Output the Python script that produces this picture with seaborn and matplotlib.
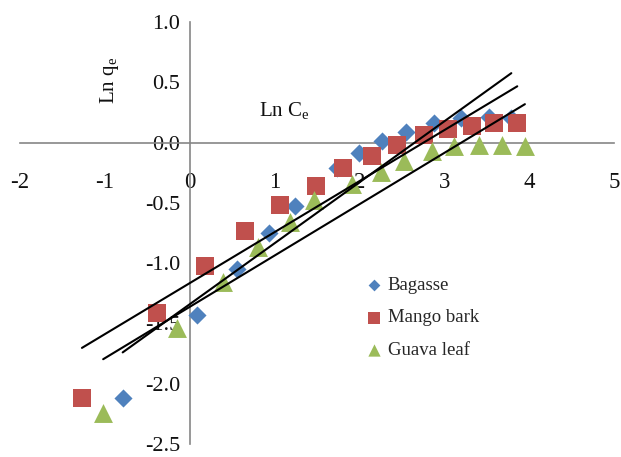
import numpy as np
import matplotlib
matplotlib.use("Agg")
import matplotlib.pyplot as plt
from matplotlib.ticker import FormatStrFormatter
import seaborn as sns

# Freundlich isotherm data: ln Ce vs ln qe for three adsorbents
bagasse_ln_ce = [-0.79, 0.08, 0.56, 0.94, 1.24, 1.73, 2.00, 2.27, 2.55, 2.88, 3.20, 3.53, 3.79]
bagasse_ln_qe = [-2.115, -1.43, -1.05, -0.75, -0.53, -0.21, -0.09, 0.01, 0.09, 0.16, 0.20, 0.21, 0.20]

mango_ln_ce = [-1.27, -0.38, 0.18, 0.65, 1.06, 1.49, 1.81, 2.15, 2.44, 2.76, 3.04, 3.33, 3.59, 3.86]
mango_ln_qe = [-2.12, -1.41, -1.02, -0.73, -0.52, -0.36, -0.21, -0.11, -0.02, 0.06, 0.11, 0.14, 0.16, 0.16]

guava_ln_ce = [-1.02, -0.15, 0.39, 0.80, 1.18, 1.47, 1.91, 2.26, 2.53, 2.85, 3.12, 3.41, 3.68, 3.95]
guava_ln_qe = [-2.24, -1.54, -1.16, -0.87, -0.66, -0.48, -0.34, -0.24, -0.15, -0.07, -0.03, -0.02, -0.02, -0.03]

series_names = ["Bagasse", "Mango bark", "Guava leaf"]
x_ticks = [-2, -1, 0, 1, 2, 3, 4, 5]
y_ticks = [-2.5, -2.0, -1.5, -1.0, -0.5, 0.0, 0.5, 1.0]

sns.set_style("white")
plt.rcParams.update({
    "font.family": ["Liberation Serif", "DejaVu Serif"],
    "mathtext.fontset": "custom",
    "mathtext.rm": "Liberation Serif",
    "mathtext.it": "Liberation Serif:italic",
    "axes.unicode_minus": False,
})

fig = plt.figure(figsize=(6.21, 4.57), dpi=100)
ax = fig.add_axes([20 / 621, 13 / 457, 594 / 621, 422 / 457])

styles = [
    (bagasse_ln_ce, bagasse_ln_qe, "D", "#4F81BD", 85),
    (mango_ln_ce, mango_ln_qe, "s", "#C0504D", 185),
    (guava_ln_ce, guava_ln_qe, "^", "#9BBB59", 185),
]

for name, (xs, ys, mk, col, size) in zip(series_names, styles):
    sns.scatterplot(x=np.array(xs), y=np.array(ys), marker=mk, color=col, s=size,
                    linewidth=0, label=name, ax=ax, zorder=3)

# linear trend lines over each series' range
for xs, ys, *_ in styles:
    sns.regplot(x=np.array(xs), y=np.array(ys), scatter=False, ci=None, truncate=True,
                color="black", line_kws={"lw": 1.5, "zorder": 4}, ax=ax)

ax.set_xlim(-2, 5)
ax.set_ylim(-2.5, 1.0)
ax.set_xlabel("")
ax.set_ylabel("")

axis_grey = "#868686"
for side in ("top", "right"):
    ax.spines[side].set_visible(False)
ax.spines["left"].set_position(("data", 0))
ax.spines["bottom"].set_position(("data", 0))
for side in ("left", "bottom"):
    ax.spines[side].set_color(axis_grey)
    ax.spines[side].set_linewidth(1.2)

ax.set_xticks(x_ticks)
ax.set_yticks(y_ticks)
ax.xaxis.set_major_formatter(FormatStrFormatter("%d"))
ax.yaxis.set_major_formatter(FormatStrFormatter("%.1f"))
ax.tick_params(axis="x", direction="out", length=4.5, width=1.2, color=axis_grey,
               labelsize=16.5, pad=17, labelcolor="#111111")
ax.tick_params(axis="y", direction="out", length=5, width=1.2, color=axis_grey,
               labelsize=16, pad=2, labelcolor="#111111")

ax.text(0.82, 0.22, "Ln C$_\\mathrm{e}$", fontsize=15, ha="left", va="baseline",
        color="#111111")
ax.text(-0.94, 0.516, "Ln q$_\\mathrm{e}$", fontsize=15, rotation=90, ha="center",
        va="center", color="#111111")

ax.legend(loc="upper left", bbox_to_anchor=(0.584, 0.397), frameon=False,
          fontsize=13.5, markerscale=0.65, handlelength=0.8, handletextpad=0.3,
          labelspacing=0.84, borderpad=0, borderaxespad=0)

fig.savefig("out.png", dpi=100, facecolor="white")
